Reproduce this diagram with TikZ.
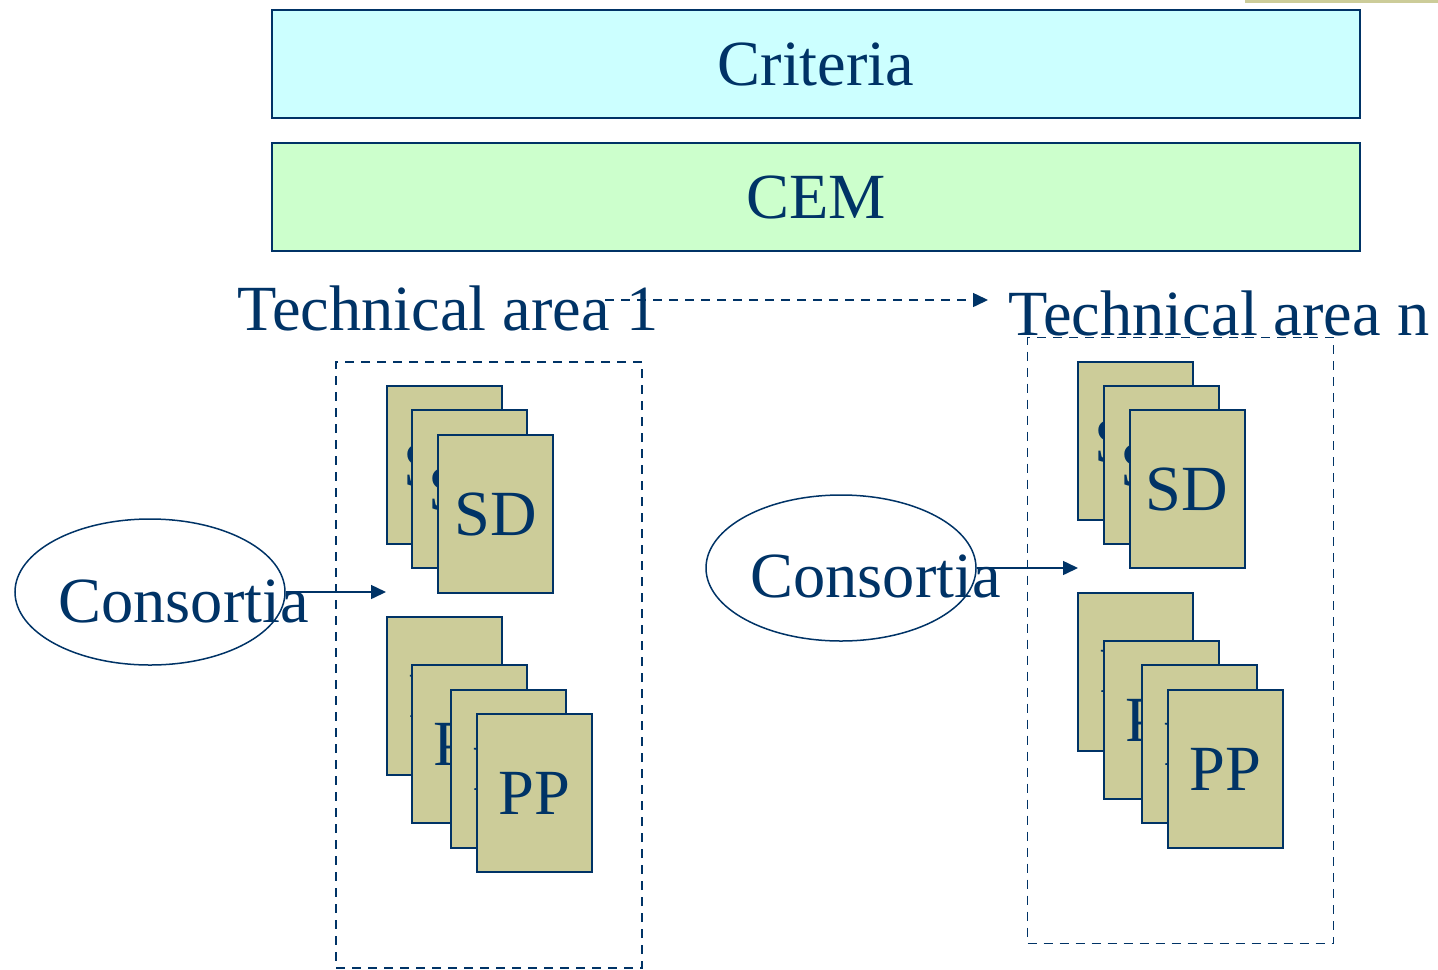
\documentclass[tikz,border=0pt]{standalone}
\usepackage{fontspec}
\setmainfont{Liberation Serif}
\usepackage{tikz}
\usetikzlibrary{arrows.meta,shapes.geometric}

\definecolor{navy}{HTML}{003366}
\definecolor{paleblue}{HTML}{CCFFFF}
\definecolor{palegreen}{HTML}{CCFFCC}
\definecolor{khaki}{HTML}{CCCC99}

\begin{document}
\begin{tikzpicture}[x=0.5pt,y=-0.5pt,>={Triangle[length=7.5pt,width=7pt]},
                    every node/.style={text=navy,font=\fontsize{32.2}{38}\selectfont}]
  \tikzstyle{banner}=[draw=navy,line width=1pt,minimum width=544pt,minimum height=54pt,inner sep=0pt]
  \tikzstyle{card}=[draw=navy,fill=khaki,line width=1pt,minimum width=57.5pt,minimum height=79pt,inner sep=0pt]
  \tikzstyle{area}=[draw=navy,line width=0.75pt,dash pattern=on 4.5pt off 3.5pt,minimum width=153pt,minimum height=303pt,inner sep=0pt]
  \tikzstyle{party}=[ellipse,draw=navy,line width=0.75pt,minimum width=135pt,minimum height=73pt,inner sep=0pt]
  \tikzstyle{label}=[inner sep=0pt,anchor=base west]

  \useasboundingbox (0,0) rectangle (1438,969);
  \fill[khaki] (1245,0) rectangle (1438,3);

  \node[banner,fill=paleblue]  (criteria) at (816,64)  {Criteria};
  \node[banner,fill=palegreen] (cem)      at (816,197) {CEM};

  \node[label] (area1) at (237,330)  {Technical area 1};
  \node[label] (arean) at (1008,335) {Technical area n};

  \node[area] (box1) at (489,665)     {};
  \node[area] (boxn) at (1180.5,640.5) {};

  % area 1
  \node[card] (sd1a) at (444.5,465) {SD};
  \node[card] (sd1b) at (469.5,489) {SD};
  \node[card] (sd1c) at (495.5,514) {SD};
  \node[card] (pp1a) at (444.5,696) {PP};
  \node[card] (pp1b) at (469.5,744) {PP};
  \node[card] (pp1c) at (508.5,769) {PP};
  \node[card] (pp1d) at (534.5,793) {PP};

  % area n
  \node[card] (sdna) at (1135.5,441) {SD};
  \node[card] (sdnb) at (1161.5,465) {SD};
  \node[card] (sdnc) at (1187,489)   {SD};
  \node[card] (ppna) at (1135.5,671.5) {PP};
  \node[card] (ppnb) at (1161.5,720) {PP};
  \node[card] (ppnc) at (1199.5,744) {PP};
  \node[card] (ppnd) at (1225.5,769) {PP};

  \node[party] (cons1) at (150,592) {};
  \node[party] (consn) at (841,568) {};
  \node[label] (cons1txt) at (58,622)  {Consortia};
  \node[label] (consntxt) at (750,597) {Consortia};

  \coordinate (from1) at (605,300);
  \coordinate (ton)   at (988,300);
  \coordinate (in1)   at (386,592);
  \coordinate (inn)   at (1078,568);

  \draw[->,navy,line width=0.75pt] (cons1.east) -- (in1);
  \draw[->,navy,line width=0.75pt] (consn.east) -- (inn);
  \draw[->,navy,line width=0.75pt,dash pattern=on 4.5pt off 3.5pt] (from1) -- (ton);

\end{tikzpicture}
\end{document}
